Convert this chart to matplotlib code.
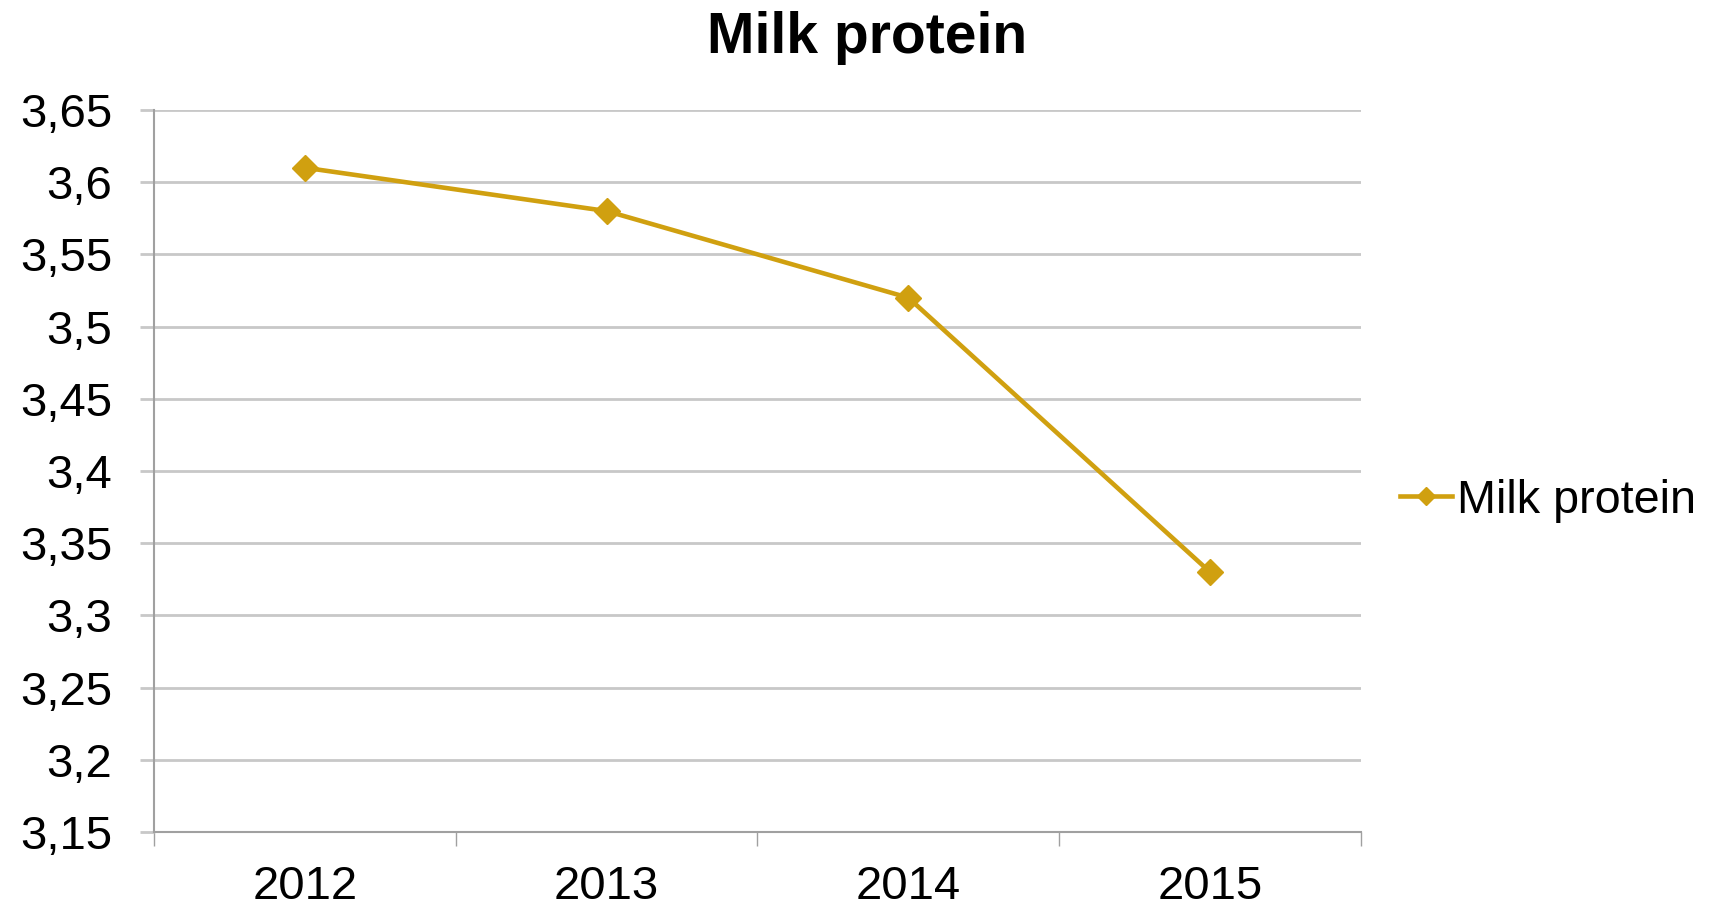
import numpy as np
import matplotlib.pyplot as plt

years = ["2012", "2013", "2014", "2015"]
protein = [3.61, 3.58, 3.52, 3.33]
yticks = [3.15, 3.2, 3.25, 3.3, 3.35, 3.4, 3.45, 3.5, 3.55, 3.6, 3.65]
ylabels = ["3,15", "3,2", "3,25", "3,3", "3,35", "3,4", "3,45", "3,5", "3,55", "3,6", "3,65"]

plt.rcParams['font.family'] = ['Liberation Sans', 'DejaVu Sans']

gold = "#D0A010"
grid_c = "#C8C8C8"

fig = plt.figure(figsize=(17.11, 9.11), dpi=100)
ax = fig.add_axes([0.090, 0.0867, 0.7054, 0.7926])

x = np.arange(len(years))
ax.plot(x, protein, color=gold, linewidth=3.3, marker="D", markersize=13, label="Milk protein")

ax.set_xlim(-0.5, len(years) - 0.5)
ax.set_ylim(3.15, 3.65)
ax.set_yticks(yticks)
ax.set_yticklabels(ylabels)
ax.set_xticks(x)
ax.set_xticklabels(years)
ax.set_xticks(np.arange(-0.5, len(years)), minor=True)

ax.yaxis.grid(True, color=grid_c, linewidth=2)
ax.set_axisbelow(True)
for s in ["top", "right"]:
    ax.spines[s].set_visible(False)
ax.spines["left"].set_color("#A0A0A0")
ax.spines["bottom"].set_color("#A0A0A0")
ax.spines["left"].set_linewidth(1.5)
ax.spines["bottom"].set_linewidth(1.5)

ax.tick_params(axis="y", length=10, width=2, color=grid_c, labelsize=34, pad=20)
ax.tick_params(axis="x", which="major", length=0, labelsize=34, pad=24)
ax.tick_params(axis="x", which="minor", length=10, width=1, color="#A0A0A0")

fig.text(0.507, 0.958, "Milk protein", ha="center", va="center", fontsize=41, fontweight="bold")

ax.legend(loc="center left", bbox_to_anchor=(1.0, 0.459), frameon=False, fontsize=33.7,
          handlelength=1.12, handletextpad=0.1, borderaxespad=0.43, borderpad=0.4,
          markerscale=0.7)

plt.savefig("out.png", dpi=100)
